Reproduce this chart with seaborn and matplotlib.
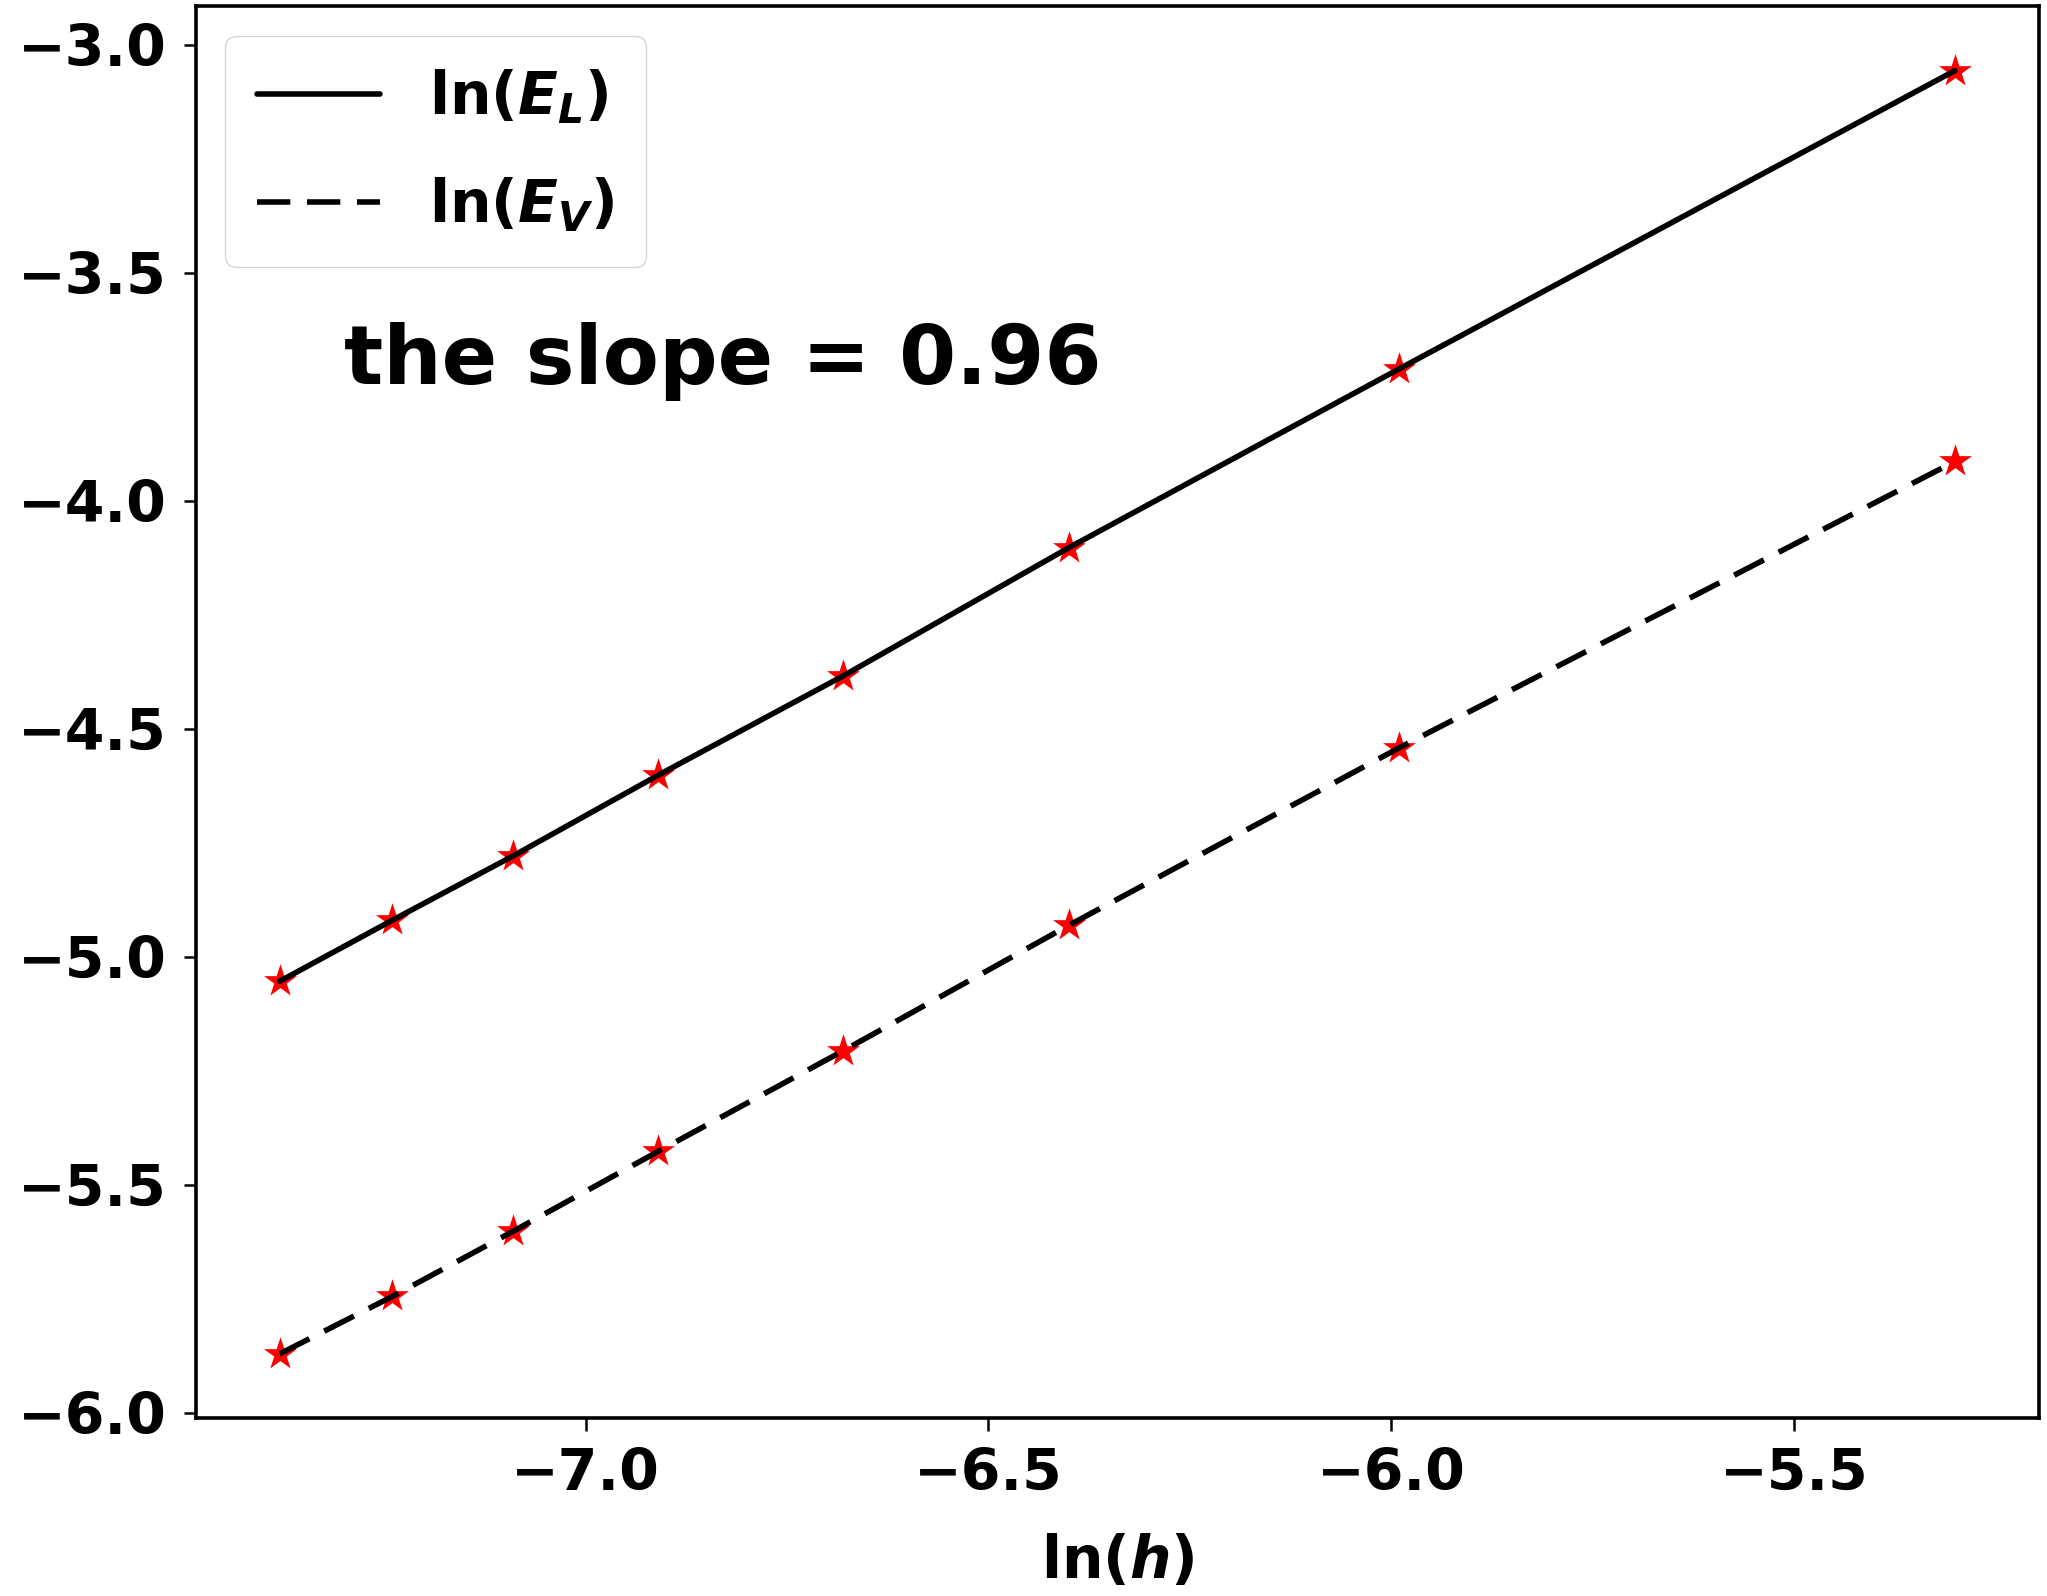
import numpy as np
import pandas as pd
import matplotlib
matplotlib.use("Agg")
import matplotlib.pyplot as plt
import seaborn as sns

# ln(h) values and the two error curves
ln_h = [-5.30, -5.99, -6.40, -6.68, -6.91, -7.09, -7.24, -7.38]
ln_EL = [-3.057, -3.711, -4.103, -4.384, -4.602, -4.779, -4.920, -5.054]
ln_EV = [-3.914, -4.542, -4.931, -5.206, -5.427, -5.602, -5.745, -5.871]

slope_text = "the slope = 0.96"

sns.set_style("ticks")
plt.rcParams['font.family'] = ['DejaVu Sans']
plt.rcParams['font.weight'] = 'bold'
plt.rcParams['mathtext.fontset'] = 'custom'
plt.rcParams['mathtext.rm'] = 'DejaVu Sans:bold'
plt.rcParams['mathtext.it'] = 'DejaVu Sans:italic:bold'
plt.rcParams['axes.edgecolor'] = 'black'
plt.rcParams['axes.labelcolor'] = 'black'
plt.rcParams['text.color'] = 'black'
plt.rcParams['xtick.color'] = 'black'
plt.rcParams['ytick.color'] = 'black'

df = pd.DataFrame({"ln_h": ln_h, "ln_EL": ln_EL, "ln_EV": ln_EV})

fig, ax = plt.subplots(figsize=(20.47, 15.96), dpi=100)
fig.subplots_adjust(left=0.0957, right=0.996, bottom=0.1115, top=0.996)

# red stars under the lines
sns.scatterplot(data=df, x="ln_h", y="ln_EL", marker="*", s=620, color="red",
                linewidth=0, ax=ax, zorder=2)
sns.scatterplot(data=df, x="ln_h", y="ln_EV", marker="*", s=620, color="red",
                linewidth=0, ax=ax, zorder=2)

sns.lineplot(data=df, x="ln_h", y="ln_EL", color="black", linewidth=4.0,
             label=r"ln($E_L$)", ax=ax, zorder=3)
sns.lineplot(data=df, x="ln_h", y="ln_EV", color="black", linewidth=4.0,
             dashes=False, ax=ax, zorder=3)
ax.lines[-1].set_linestyle((0, (6.0, 3.0)))
ax.lines[-1].set_label(r"ln($E_V$)")

ax.text(-7.30, -3.745, slope_text, fontsize=59, fontweight="bold", color="black")

ax.set_xticks([-7.0, -6.5, -6.0, -5.5])
ax.set_yticks([-6.0, -5.5, -5.0, -4.5, -4.0, -3.5, -3.0])
ax.tick_params(axis="both", labelsize=41, length=9, width=1.8, pad=12)
for lab in ax.get_xticklabels() + ax.get_yticklabels():
    lab.set_fontweight("bold")
for sp in ax.spines.values():
    sp.set_linewidth(2.6)
    sp.set_visible(True)

ax.set_xlabel(r"ln($h$)", fontsize=42, fontweight="bold", labelpad=22)
ax.set_ylabel("")

ax.legend(loc="upper left", fontsize=42, handlelength=2.1, handletextpad=0.85,
          borderpad=0.55, labelspacing=0.85)

fig.savefig("out.png", dpi=100)
